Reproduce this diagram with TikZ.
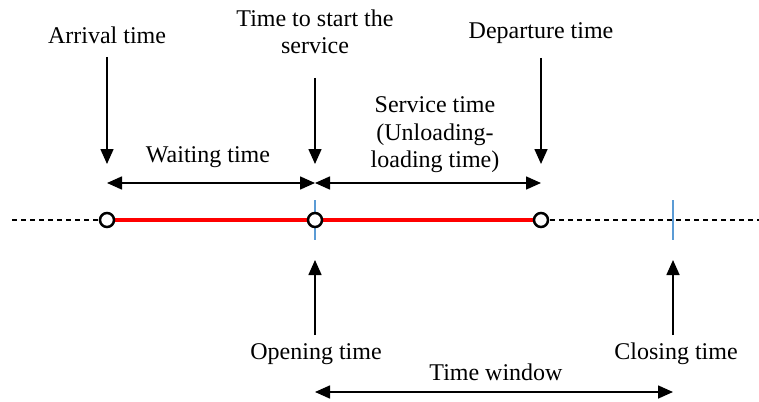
\documentclass[tikz,border=0pt]{standalone}
\usepackage{fontspec}
\setmainfont{Liberation Serif}
\newfontfamily\lblfont{Liberation Serif}
\usetikzlibrary{calc, positioning}
\usetikzlibrary{arrows.meta}

\definecolor{winblue}{RGB}{91,155,213}

\begin{document}
\begin{tikzpicture}[x=1pt, y=-1pt,
  lbl/.style={font=\lblfont\fontsize{24}{27.5}\selectfont, align=center, inner sep=0pt},
  stop/.style={circle, draw, line width=2.5pt, fill=white, minimum size=14pt, inner sep=0pt},
  pointer/.style={-{Triangle[length=15pt,width=13pt]}, line width=1.6pt},
  span/.style={{Triangle[length=15pt,width=13pt]}-{Triangle[length=15pt,width=13pt]}, line width=1.6pt},
  winmark/.style={draw=winblue, line width=2.2pt}]
\useasboundingbox (0,0) rectangle (759,401);

\def\ty{220}
\def\ta{107}
\def\ts{315}
\def\td{541}
\def\tc{673}

% points on the time axis
\coordinate (L) at (12,\ty);
\coordinate (R) at (759,\ty);
\coordinate (A) at (\ta,\ty);
\coordinate (S) at (\ts,\ty);
\coordinate (D) at (\td,\ty);
\coordinate (C) at (\tc,\ty);

% arrow tips and span ends
\coordinate (Atip) at (\ta,164);
\coordinate (Stip) at (\ts,164);
\coordinate (Dtip) at (\td,164);
\coordinate (Otip) at (\ts,260);
\coordinate (Ctip) at (\tc,260);
\coordinate (W1) at (\ta,183);
\coordinate (W2) at (\ts,183);
\coordinate (V2) at (\td,183);
\coordinate (T1) at (\ts,392);
\coordinate (T2) at (\tc,392);

% axis
\draw[dashed, line width=1.8pt, dash pattern=on 5pt off 4pt] (L) -- (A);
\draw[dashed, line width=1.8pt, dash pattern=on 5pt off 4pt] (D) -- (R);
\draw[red, line width=4pt] (A) -- (D);
\draw[winmark] ($(S)+(0,-20)$) -- ($(S)+(0,20)$);
\draw[winmark] ($(C)+(0,-20)$) -- ($(C)+(0,20)$);

\node[stop] (arrive) at (A) {};
\node[stop] (start) at (S) {};
\node[stop] (depart) at (D) {};

% labels
\node[lbl] (arrlab) at (\ta,35) {Arrival time};
\node[lbl] (startlab) at (\ts,32) {Time to start the\\service};
\node[lbl] (deplab) at (\td,33) {Departure time};
\node[lbl] (waitlab) at (208,157) {Waiting time};
\node[lbl] (servlab) at (435,135) {Service time\\(Unloading-\\loading time)};
\node[lbl] (openlab) at (316,354) {Opening time};
\node[lbl] (closelab) at (676,354) {Closing time};
\node[lbl] (winlab) at (496,372) {Time window};

% pointers
\draw[pointer] (\ta,57) -- (Atip);
\draw[pointer] (\ts,78) -- (Stip);
\draw[pointer] (\td,58) -- (Dtip);
\draw[pointer] (\ts,335) -- (Otip);
\draw[pointer] (\tc,335) -- (Ctip);

\draw[span] (W1) -- (W2);
\draw[span] (W2) -- (V2);
\draw[span] (T1) -- (T2);
\end{tikzpicture}
\end{document}
